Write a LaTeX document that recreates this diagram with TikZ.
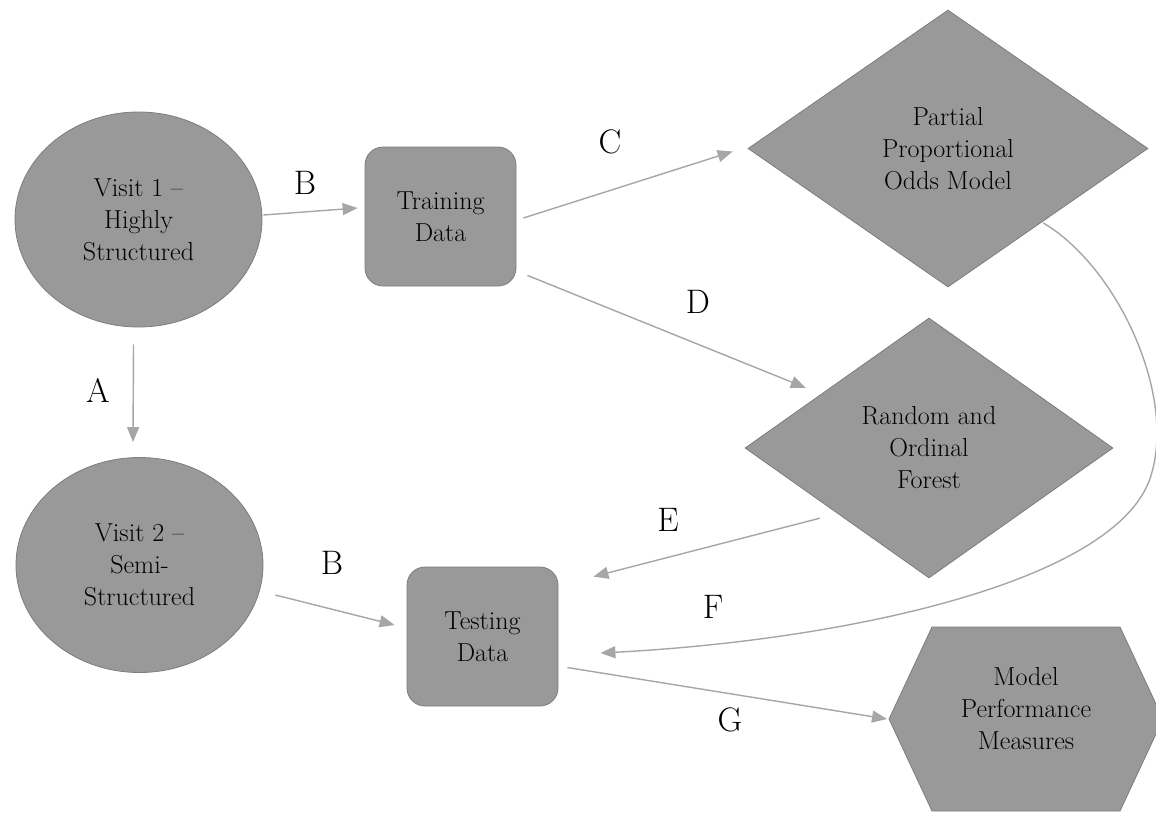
\documentclass[tikz,border=0pt]{standalone}
\usetikzlibrary{shapes.geometric,arrows.meta,calc}
\definecolor{shapefill}{RGB}{153,153,153}
\definecolor{shapeline}{RGB}{125,125,125}
\definecolor{arrowgray}{RGB}{166,166,166}
\begin{document}
\begin{tikzpicture}[x=1pt,y=-1pt,
  box/.style={fill=shapefill,draw=shapeline,line width=0.8pt,align=center,
    font=\fontsize{26}{32}\selectfont,inner sep=0pt},
  oval/.style={box,ellipse,minimum width=247pt,minimum height=215pt},
  rbox/.style={box,rectangle,rounded corners=18pt,minimum width=151pt,minimum height=139pt},
  diam/.style={box,diamond},
  txt/.style={align=center,font=\fontsize{26}{32}\selectfont,inner sep=0pt},
  arr/.style={draw=arrowgray,line width=1.4pt,-{Triangle[length=15pt,width=12pt]}},
  lbl/.style={font=\fontsize{34}{40}\selectfont,inner sep=0pt}]
\useasboundingbox (0,0) rectangle (1156,812);

% shapes
\node[oval] (v1) at (138.5,219.5) {Visit 1 \textendash\\Highly\\Structured};
\node[oval] (v2) at (139.5,565) {Visit 2 \textendash\\Semi-\\Structured};
\node[rbox] (train) at (440.5,216.5) {Training\\Data};
\node[rbox] (test) at (482.5,636.5) {Testing\\Data};
\node[diam,minimum width=400pt,minimum height=277pt] (pom) at (948,148.5)
  {Partial\\Proportional\\Odds Model};
\node[diam,minimum width=368pt,minimum height=260pt] (rof) at (929,448)
  {Random and\\Ordinal\\Forest};
\coordinate (perfW) at (889,719);
\filldraw[fill=shapefill,draw=shapeline,line width=0.8pt]
  (perfW) -- (932,627) -- (1120,627) -- (1163,719) -- (1120,811) -- (932,811) -- cycle;
\node[txt] (perf) at (1026,709) {Model\\Performance\\Measures};

% connectors
\draw[arr] ($(v1.south)+(-5,17)$) -- ($(v2.north)+(-6.5,-15)$);
\draw[arr] ($(v1.east)+(1,-4.5)$) -- ($(train.west)+(-7,-8.5)$);
\draw[arr] ($(v2.east)+(12,30)$) -- ($(test.west)+(-12,-11.5)$);
\draw[arr] ($(train.east)+(7,1.5)$) -- ($(pom.west)+(-15,3)$);
\draw[arr] ($(train.south east)+(11,-11)$) -- ($(rof.north west)+(-31,5)$);
\draw[arr] ($(rof.south west)+(-17,5)$) -- ($(test.north east)+(35,10)$);
\draw[arr] ($(pom.south east)+(-5,5)$) .. controls (1115,265) and (1175,390) .. (1152,472)
  .. controls (1125,580) and (850,640) .. ($(test.east)+(42,16.5)$);
\draw[arr] ($(test.east)+(9,31)$) -- ($(perfW)+(-2,0)$);

% labels
\node[lbl] (la) at (98,390) {A};
\node[lbl] (lb1) at (305,183) {B};
\node[lbl] (lb2) at (332,563) {B};
\node[lbl] (lc) at (610,142) {C};
\node[lbl] (ld) at (698,302) {D};
\node[lbl] (le) at (668,520) {E};
\node[lbl] (lf) at (713,607) {F};
\node[lbl] (lg) at (730,720) {G};
\end{tikzpicture}
\end{document}
